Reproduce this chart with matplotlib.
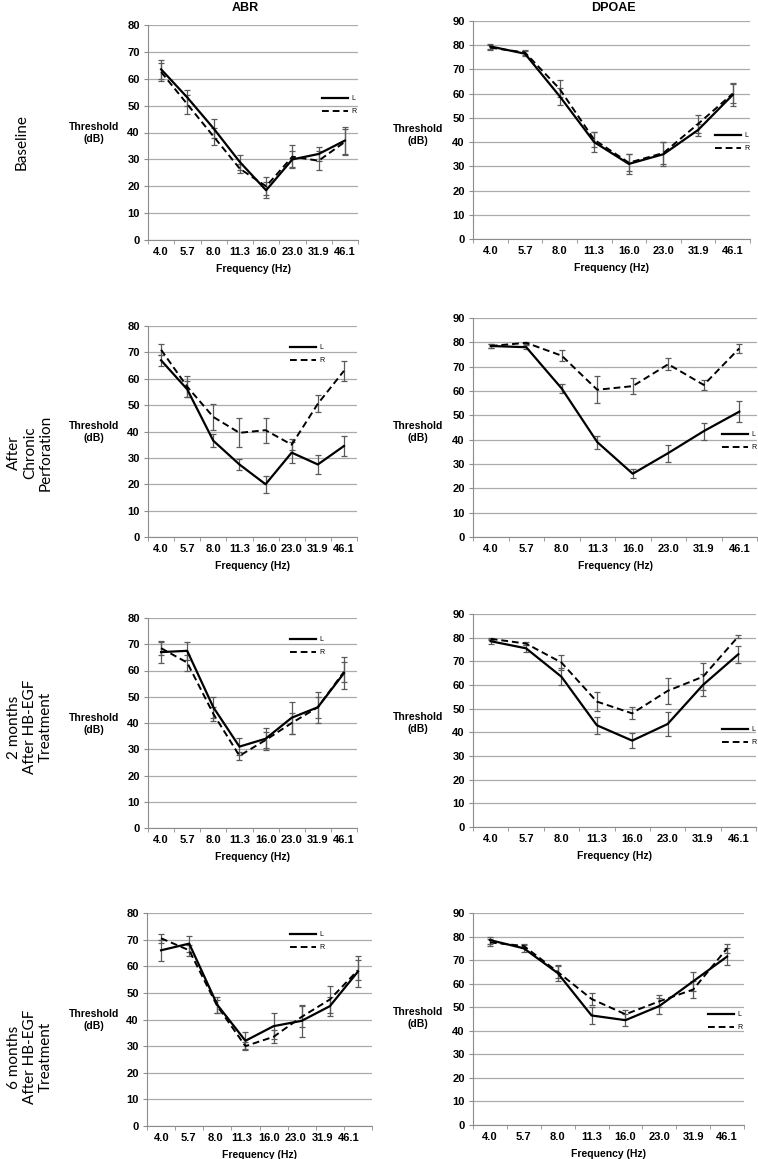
import numpy as np
import matplotlib.pyplot as plt

plt.rcParams.update({
    'font.family': ['Liberation Sans', 'DejaVu Sans'],
    'font.weight': 'bold',
})

W, H = 758, 1159

freq_labels = ['4.0', '5.7', '8.0', '11.3', '16.0', '23.0', '31.9', '46.1']

# ABR (dB), mean and error half-width, left (L) and right (R) ear
abr_base_L = [63.5, 53, 41.5, 29, 18.5, 30, 32, 37]
abr_base_Le = [3.5, 3, 3.5, 2.8, 3, 3, 2.5, 5]
abr_base_R = [62.5, 50.5, 38.5, 26.5, 20, 31, 29.5, 36.5]
abr_base_Re = [3.5, 3.5, 3, 1.7, 3.3, 4.2, 3.5, 4.7]

abr_chr_L = [67, 56, 36.5, 27.5, 20, 32, 27.5, 34.5]
abr_chr_Le = [2, 3, 2.5, 2, 3.3, 4, 3.7, 3.8]
abr_chr_R = [71, 57, 45.5, 39.5, 40.5, 35, 50.5, 63]
abr_chr_Re = [2, 4, 5, 5.5, 4.8, 2, 3.2, 3.7]

abr_2m_L = [67, 67.5, 46, 31, 34, 42, 46, 59]
abr_2m_Le = [4.3, 3.5, 4, 3.2, 4.2, 6, 6, 6.2]
abr_2m_R = [68.5, 63, 43.5, 27.5, 33.5, 40, 46, 59.5]
abr_2m_Re = [2.5, 3, 2.7, 1.5, 3.2, 4, 4, 3.8]

abr_6m_L = [66, 68.5, 45.5, 32, 37.5, 39.5, 45, 58]
abr_6m_Le = [4, 3, 3, 3.2, 5, 6, 3.5, 5.7]
abr_6m_R = [70.5, 66, 45, 30, 33.5, 41, 47.5, 58.5]
abr_6m_Re = [1.8, 2, 2.5, 1.5, 2.5, 4, 5, 3.8]

# DPOAE (dB)
dp_base_L = [79.5, 76.5, 59, 40, 31, 35, 45, 59.5]
dp_base_Le = [1, 1, 3.5, 4, 4, 5, 2.5, 4.7]
dp_base_R = [79, 77, 62, 41, 31.5, 35.5, 47.5, 60]
dp_base_Re = [1, 1, 3.5, 3, 3.5, 4.5, 3.8, 4]

dp_chr_L = [78.5, 78, 61, 39, 26, 34.5, 43.5, 51.5]
dp_chr_Le = [1, 0.8, 2, 2.7, 1.8, 3.5, 3.5, 4.2]
dp_chr_R = [78.5, 79.8, 74.5, 60.5, 62, 71, 62.5, 77.5]
dp_chr_Re = [1, 0.5, 2.2, 5.5, 3.2, 2.5, 2, 1.7]

dp_2m_L = [78.5, 75.5, 63.5, 43, 36.5, 43.5, 60, 73]
dp_2m_Le = [1, 1.5, 3.5, 3.5, 3.2, 5.2, 4.7, 3.5]
dp_2m_R = [79.5, 77.5, 69.5, 53, 48, 57.5, 63.5, 80.5]
dp_2m_Re = [0.5, 0.8, 3, 4, 2.5, 5.5, 5.8, 0.5]

dp_6m_L = [78.5, 75, 64.5, 46.5, 44.5, 50.5, 61, 71.5]
dp_6m_Le = [1.5, 1.5, 3.5, 3.5, 2.5, 3.5, 4, 3.5]
dp_6m_R = [77.5, 76, 65, 53.5, 47, 52.5, 57.5, 75]
dp_6m_Re = [1.5, 1, 2.7, 2.5, 2, 2.5, 3.5, 2]

row_labels = ['Baseline', 'After\nChronic\nPerforation',
              '2 months\nAfter HB-EGF\nTreatment', '6 months\nAfter HB-EGF\nTreatment']

# panel boxes in pixels: (left, top, right, bottom), legend start (x, y of first row), ylabel y
panels = [
    dict(box=(148, 25, 358, 240), ymax=80, leg=(322, 100), yl=133,
         data=(abr_base_L, abr_base_Le, abr_base_R, abr_base_Re)),
    dict(box=(473, 21, 750, 239), ymax=90, leg=(715, 137), yl=135,
         data=(dp_base_L, dp_base_Le, dp_base_R, dp_base_Re)),
    dict(box=(148, 326, 357, 537), ymax=80, leg=(290, 349), yl=432,
         data=(abr_chr_L, abr_chr_Le, abr_chr_R, abr_chr_Re)),
    dict(box=(473, 318, 757, 537), ymax=90, leg=(722, 436), yl=432,
         data=(dp_chr_L, dp_chr_Le, dp_chr_R, dp_chr_Re)),
    dict(box=(148, 618, 357, 828), ymax=80, leg=(290, 641), yl=724,
         data=(abr_2m_L, abr_2m_Le, abr_2m_R, abr_2m_Re)),
    dict(box=(473, 614, 756, 827), ymax=90, leg=(722, 731), yl=723,
         data=(dp_2m_L, dp_2m_Le, dp_2m_R, dp_2m_Re)),
    dict(box=(147, 913, 372, 1126), ymax=80, leg=(290, 936), yl=1020,
         data=(abr_6m_L, abr_6m_Le, abr_6m_R, abr_6m_Re)),
    dict(box=(473, 913, 744, 1125), ymax=90, leg=(708, 1016), yl=1018,
         data=(dp_6m_L, dp_6m_Le, dp_6m_R, dp_6m_Re)),
]

fig = plt.figure(figsize=(W / 100, H / 100), dpi=100)
x = np.arange(len(freq_labels))

for i, p in enumerate(panels):
    l, t, r, b = p['box']
    ax = fig.add_axes([l / W, 1 - b / H, (r - l) / W, (b - t) / H])
    L, Le, R, Re = p['data']
    ax.errorbar(x, L, yerr=Le, fmt='none', ecolor='#5a5a5a', elinewidth=0.9, capsize=2, capthick=0.9, zorder=3)
    ax.errorbar(x, R, yerr=Re, fmt='none', ecolor='#5a5a5a', elinewidth=0.9, capsize=2, capthick=0.9, zorder=3)
    ax.plot(x, L, color='black', lw=1.6, label='L', zorder=4)
    ax.plot(x, R, color='black', lw=1.4, ls=(0, (3.5, 2)), label='R', zorder=4)

    ax.set_xlim(-0.5, 7.5)
    ax.set_ylim(0, p['ymax'])
    ax.set_yticks(np.arange(0, p['ymax'] + 1, 10))
    ax.yaxis.grid(True, color='#ababab', lw=0.9)
    ax.set_axisbelow(True)
    for s in ['top', 'right']:
        ax.spines[s].set_visible(False)
    for s in ['left', 'bottom']:
        ax.spines[s].set_color('#8c8c8c')
        ax.spines[s].set_linewidth(0.8)

    # the last ABR panel has its labels squeezed left, as in the source figure
    if i == 6:
        ax.set_xticks(0.03 + 0.95 * x)
    else:
        ax.set_xticks(x)
    ax.set_xticklabels(freq_labels)
    ax.set_xticks(np.arange(-0.5, 8, 1), minor=True)
    ax.tick_params(axis='x', which='major', length=0, labelsize=8, pad=5)
    ax.tick_params(axis='x', which='minor', length=3, color='#8c8c8c', direction='out')
    ax.tick_params(axis='y', length=3, color='#8c8c8c', labelsize=8, pad=3)
    ax.set_xlabel('Frequency (Hz)', fontsize=7.5, fontweight='bold', labelpad=5)

    # legend placed where the source has it
    lx, ly = p['leg']
    ax.legend(loc='upper left', bbox_to_anchor=((lx - l) / (r - l), (b - ly + 5) / (b - t)),
              frameon=False, handlelength=3.7, handletextpad=0.6,
              labelspacing=0.9, borderpad=0, borderaxespad=0,
              prop={'size': 5, 'weight': 'normal'})

    ylx = 94 if l < 300 else 418
    fig.text(ylx / W, 1 - p['yl'] / H, 'Threshold\n(dB)', ha='center', va='center',
             fontsize=7.5, fontweight='bold', linespacing=1.2)

fig.text(245 / W, 1 - 8 / H, 'ABR', ha='center', va='center', fontsize=9, fontweight='bold')
fig.text(613 / W, 1 - 8 / H, 'DPOAE', ha='center', va='center', fontsize=9, fontweight='bold')

row_pos = [(22, 142), (30, 453), (30, 727), (30, 1057)]
for lab, (rx, ry) in zip(row_labels, row_pos):
    fig.text(rx / W, 1 - ry / H, lab, rotation=90, ha='center', va='center',
             fontsize=11, fontweight='normal', family=['Lato', 'DejaVu Sans'],
             linespacing=1.15, multialignment='center')

fig.savefig('out.png', dpi=100)
